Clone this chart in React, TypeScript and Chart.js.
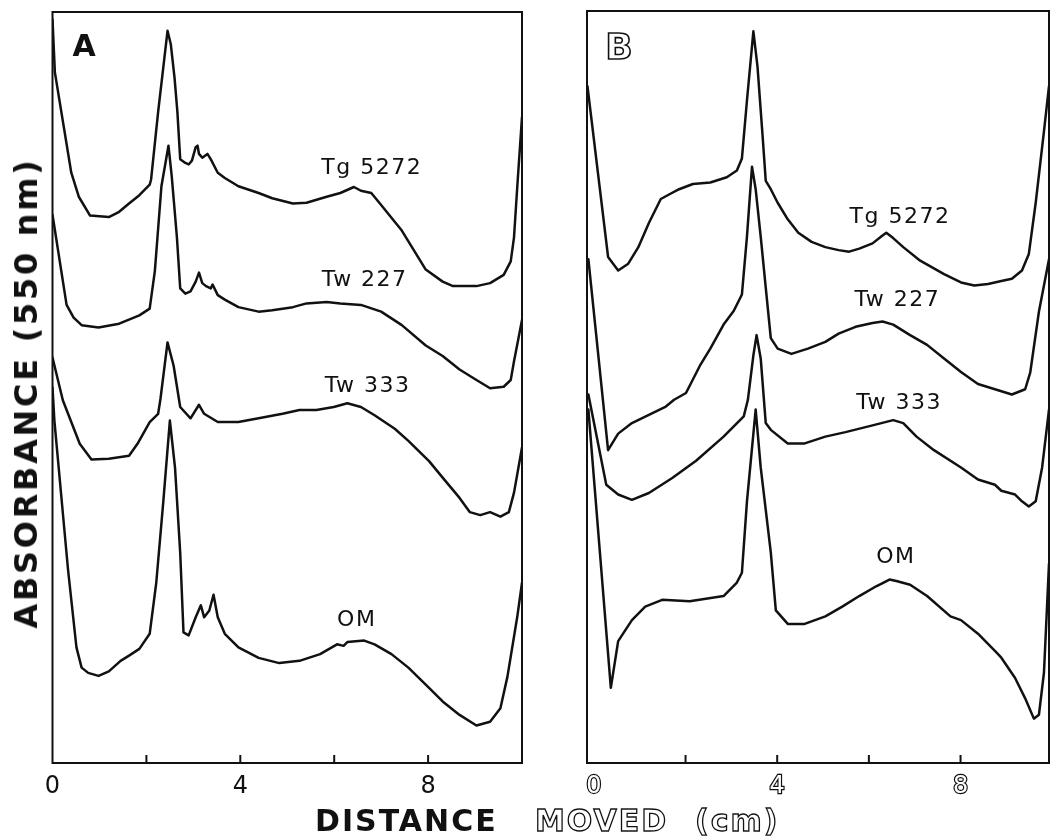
import React, { useEffect, useRef } from 'react';
import { Chart, registerables } from 'chart.js';

Chart.register(...registerables);

type Pt = [number, number];

// x ticks (cm) and series names
const X_TICKS = [0, 2, 4, 6, 8];
const SERIES_NAMES = ['Tg 5272', 'Tw 227', 'Tw 333', 'OM'];

// ---------- Panel A (distance cm, absorbance arbitrary units 0-100) ----------
const A_TG5272: Pt[] = [
  [0, 99], [0.05, 92], [0.4, 78.6], [0.56, 75.4], [0.8, 72.9], [1.2, 72.7], [1.42, 73.4], [1.63, 74.5],
  [1.85, 75.6], [2.07, 77.0], [2.1, 77.7], [2.25, 86.7], [2.45, 97.5], [2.52, 95.7], [2.6, 91.2], [2.66, 86.7],
  [2.72, 80.4], [2.83, 79.9], [2.9, 79.7], [2.97, 80.2], [3.05, 82.0], [3.09, 82.2], [3.12, 81.1], [3.19, 80.6],
  [3.3, 81.1], [3.37, 80.4], [3.52, 78.6], [3.67, 77.9], [3.96, 76.8], [4.39, 75.9], [4.68, 75.2], [5.12, 74.5],
  [5.41, 74.6], [5.84, 75.4], [6.13, 75.9], [6.42, 76.7], [6.57, 76.2], [6.79, 75.9], [7.0, 74.3], [7.44, 70.9],
  [7.95, 65.7], [8.31, 64.1], [8.53, 63.5], [9.03, 63.5], [9.32, 63.9], [9.61, 65.0], [9.76, 66.8], [9.83, 70.0],
  [9.9, 76.8], [10, 86],
];
const A_TW227: Pt[] = [
  [0, 73], [0.3, 61], [0.45, 59.3], [0.62, 58.3], [0.98, 58.0], [1.42, 58.5], [1.85, 59.6], [2.07, 60.5],
  [2.18, 65.5], [2.32, 76.8], [2.47, 82.2], [2.54, 78.1], [2.65, 70.0], [2.72, 63.2], [2.83, 62.5], [2.94, 62.8],
  [3.05, 64.1], [3.12, 65.3], [3.19, 63.9], [3.27, 63.5], [3.37, 63.2], [3.41, 63.7], [3.52, 62.3], [3.67, 61.7],
  [3.96, 60.7], [4.39, 60.1], [4.68, 60.3], [5.12, 60.7], [5.41, 61.2], [5.84, 61.4], [6.13, 61.2], [6.57, 61.0],
  [7.0, 60.1], [7.44, 58.3], [7.95, 55.6], [8.31, 54.2], [8.67, 52.4], [9.03, 51.0], [9.32, 49.9], [9.61, 50.1],
  [9.76, 51.0], [9.83, 53.5], [10, 59],
];
const A_TW333: Pt[] = [
  [0, 54], [0.22, 48.3], [0.58, 42.5], [0.83, 40.4], [1.2, 40.5], [1.63, 40.9], [1.81, 42.5], [2.07, 45.4],
  [2.25, 46.5], [2.3, 48.5], [2.45, 56.0], [2.58, 52.9], [2.72, 47.4], [2.94, 45.9], [3.12, 47.7], [3.23, 46.5],
  [3.52, 45.4], [3.96, 45.4], [4.39, 45.9], [4.9, 46.5], [5.26, 47.0], [5.62, 47.0], [5.99, 47.4], [6.28, 47.9],
  [6.57, 47.4], [6.86, 46.3], [7.29, 44.5], [7.58, 42.9], [8.02, 40.2], [8.31, 38.0], [8.67, 35.3], [8.89, 33.4],
  [9.11, 33.0], [9.32, 33.4], [9.54, 32.8], [9.72, 33.4], [9.83, 36.0], [10, 42],
];
const A_OM: Pt[] = [
  [0, 50], [0.04, 45.6], [0.33, 25.8], [0.51, 15.4], [0.62, 12.7], [0.76, 12.0], [0.98, 11.6], [1.2, 12.2],
  [1.45, 13.6], [1.63, 14.3], [1.85, 15.2], [2.07, 17.2], [2.21, 24.0], [2.36, 34.8], [2.5, 45.6], [2.61, 39.3],
  [2.72, 28.0], [2.79, 17.4], [2.9, 17.0], [3.05, 19.4], [3.16, 21.0], [3.23, 19.4], [3.34, 20.3], [3.43, 22.4],
  [3.52, 19.4], [3.67, 17.2], [3.96, 15.4], [4.39, 14.0], [4.83, 13.3], [5.26, 13.6], [5.7, 14.5], [6.06, 15.8],
  [6.2, 15.6], [6.28, 16.1], [6.64, 16.3], [6.86, 15.8], [7.22, 14.5], [7.58, 12.7], [8.02, 10.0], [8.31, 8.2],
  [8.67, 6.4], [9.03, 5.0], [9.32, 5.5], [9.54, 7.3], [9.69, 11.5], [9.9, 19.5], [10, 24],
];

// ---------- Panel B ----------
const B_TG5272: Pt[] = [
  [-0.14, 90], [0.31, 67.3], [0.53, 65.5], [0.75, 66.4], [0.97, 68.6], [1.2, 71.8], [1.46, 75.0], [1.64, 75.6],
  [1.86, 76.3], [2.16, 77.0], [2.54, 77.2], [2.9, 77.9], [3.12, 78.8], [3.23, 80.4], [3.34, 88.1], [3.48, 97.3],
  [3.57, 92.6], [3.68, 83.5], [3.75, 77.4], [3.86, 76.3], [4.01, 74.5], [4.23, 72.3], [4.46, 70.5], [4.75, 69.3],
  [5.05, 68.6], [5.34, 68.2], [5.57, 68.0], [5.79, 68.4], [6.08, 69.1], [6.27, 70.0], [6.38, 70.5], [6.53, 69.8],
  [6.75, 68.6], [7.12, 66.8], [7.64, 65.0], [8.01, 63.9], [8.3, 63.5], [8.6, 63.7], [8.89, 64.1], [9.12, 64.4],
  [9.34, 65.5], [9.49, 67.7], [9.64, 74.5], [9.82, 84], [9.93, 90],
];
const B_TW227: Pt[] = [
  [-0.12, 67], [0.31, 41.6], [0.53, 43.8], [0.83, 45.2], [1.2, 46.3], [1.57, 47.4], [1.75, 48.3], [2.01, 49.2],
  [2.31, 52.8], [2.54, 55.1], [2.83, 58.3], [3.05, 60.1], [3.23, 62.3], [3.34, 70.0], [3.45, 79.3], [3.53, 76.3],
  [3.64, 70.0], [3.75, 63.2], [3.86, 56.5], [4.01, 55.1], [4.31, 54.4], [4.67, 55.1], [5.05, 56.0], [5.34, 57.1],
  [5.71, 58.0], [6.08, 58.5], [6.3, 58.7], [6.53, 58.3], [6.9, 56.9], [7.27, 55.6], [7.64, 53.8], [8.01, 52.0],
  [8.38, 50.4], [8.75, 49.7], [9.12, 49.0], [9.41, 49.7], [9.52, 51.9], [9.71, 60.0], [9.93, 67],
];
const B_TW333: Pt[] = [
  [-0.12, 49], [0.27, 37.0], [0.53, 35.7], [0.83, 35.0], [1.2, 35.9], [1.71, 37.9], [2.23, 40.2], [2.83, 43.4],
  [3.27, 46.1], [3.36, 48.3], [3.48, 54.2], [3.55, 56.9], [3.64, 53.8], [3.75, 45.2], [3.86, 44.3], [4.23, 42.5],
  [4.6, 42.5], [5.05, 43.4], [5.49, 44.0], [6.08, 44.9], [6.53, 45.6], [6.75, 45.2], [7.04, 43.4], [7.42, 41.6],
  [8.01, 39.3], [8.38, 37.7], [8.75, 37.0], [8.89, 36.2], [9.19, 35.7], [9.34, 34.8], [9.49, 34.1], [9.64, 34.8],
  [9.78, 39.3], [9.93, 47],
];
const B_OM: Pt[] = [
  [-0.12, 47], [0.37, 10.0], [0.53, 16.2], [0.83, 19.0], [1.12, 20.8], [1.49, 21.7], [2.09, 21.5], [2.83, 22.2],
  [3.12, 24.0], [3.23, 25.3], [3.34, 34.8], [3.53, 47.0], [3.64, 39.3], [3.86, 28.0], [3.97, 20.3], [4.23, 18.5],
  [4.6, 18.5], [5.05, 19.5], [5.42, 20.8], [5.79, 22.2], [6.16, 23.5], [6.45, 24.4], [6.6, 24.2], [6.9, 23.7],
  [7.27, 22.2], [7.78, 19.5], [8.01, 19.0], [8.38, 17.2], [8.75, 14.9], [8.89, 14.0], [9.19, 11.3], [9.41, 8.6],
  [9.6, 5.9], [9.71, 6.4], [9.82, 12.0], [9.93, 26.5],
];

type PanelSpec = {
  letter: string;
  hollow: boolean;
  letterSize: number;
  series: Pt[][];
  xMin: number;
  xMax: number;
  canvasLeft: number;
  canvasWidth: number;
  pad: { left: number; right: number; top: number };
  letterOffset: [number, number];
  labelPos: Pt[];
};

function makeDeco(p: PanelSpec) {
  return {
    id: 'panelDeco' + p.letter,
    afterDatasetsDraw(chart: any) {
      const { ctx, chartArea: ca, scales } = chart;
      const xs = scales.x;
      const ys = scales.y;
      ctx.save();
      ctx.strokeStyle = '#111';
      ctx.lineWidth = 2;
      ctx.strokeRect(ca.left, ca.top, ca.right - ca.left, ca.bottom - ca.top);
      xs.ticks.forEach((t: any) => {
        if (t.value > 0) {
          const px = xs.getPixelForValue(t.value);
          ctx.beginPath();
          ctx.moveTo(px, ca.bottom);
          ctx.lineTo(px, ca.bottom - 8);
          ctx.stroke();
        }
      });
      ctx.font = `bold ${p.letterSize}px "DejaVu Sans"`;
      ctx.textAlign = 'center';
      ctx.textBaseline = 'alphabetic';
      const lx = ca.left + p.letterOffset[0];
      const ly = ca.top + p.letterOffset[1];
      if (p.hollow) {
        ctx.lineWidth = 1.6;
        ctx.strokeText(p.letter, lx, ly);
      } else {
        ctx.fillStyle = '#111';
        ctx.fillText(p.letter, lx, ly);
      }
      ctx.font = '22px "DejaVu Sans"';
      (ctx as any).letterSpacing = '1.5px';
      ctx.textBaseline = 'middle';
      ctx.fillStyle = '#111';
      p.labelPos.forEach(([x, y], i) => {
        ctx.fillText(SERIES_NAMES[i], xs.getPixelForValue(x), ys.getPixelForValue(y));
      });
      ctx.restore();
    },
  };
}

function buildConfig(p: PanelSpec): any {
  return {
    type: 'line',
    data: {
      datasets: p.series.map((s, i) => ({
        label: SERIES_NAMES[i],
        data: s.map(([x, y]) => ({ x, y })),
        borderColor: '#111',
        borderWidth: 2.5,
        pointRadius: 0,
        fill: false,
        tension: 0,
        borderJoinStyle: 'round',
        borderCapStyle: 'round',
      })),
    },
    options: {
      animation: false,
      responsive: false,
      devicePixelRatio: 1,
      layout: { padding: { left: p.pad.left, right: p.pad.right, top: p.pad.top, bottom: 0 } },
      plugins: { legend: { display: false }, tooltip: { enabled: false } },
      scales: {
        x: {
          type: 'linear',
          min: p.xMin,
          max: p.xMax,
          grid: { display: false, drawTicks: false },
          border: { display: false },
          afterBuildTicks: (axis: any) => {
            axis.ticks = X_TICKS.map((v) => ({ value: v }));
          },
          afterFit: (axis: any) => {
            axis.height = 76;
          },
          ticks: {
            autoSkip: false,
            maxRotation: 0,
            padding: 9,
            font: { family: 'DejaVu Sans', size: 24 },
            color: p.hollow ? '#fff' : '#111',
            textStrokeColor: '#111',
            textStrokeWidth: p.hollow ? 2.4 : 0,
            callback: (v: number) => (v % 4 === 0 ? String(v) : ''),
          },
        },
        y: { type: 'linear', min: 0, max: 100, display: false },
      },
    },
    plugins: [makeDeco(p)],
  };
}

const PANEL_A: PanelSpec = {
  letter: 'A',
  hollow: false,
  letterSize: 30,
  series: [A_TG5272, A_TW227, A_TW333, A_OM],
  xMin: 0,
  xMax: 10,
  canvasLeft: 0,
  canvasWidth: 535,
  pad: { left: 52.5, right: 13, top: 12 },
  letterOffset: [31.5, 44],
  labelPos: [[6.8, 79.2], [6.65, 64.3], [6.71, 50.2], [6.48, 19.0]],
};

const PANEL_B: PanelSpec = {
  letter: 'B',
  hollow: true,
  letterSize: 36,
  series: [B_TG5272, B_TW227, B_TW333, B_OM],
  xMin: -0.15,
  xMax: 9.93,
  canvasLeft: 535,
  canvasWidth: 516,
  pad: { left: 52, right: 2, top: 11 },
  letterOffset: [32, 48],
  labelPos: [[6.68, 72.6], [6.62, 61.5], [6.66, 47.8], [6.59, 27.3]],
};

function Panel({ spec }: { spec: PanelSpec }) {
  const ref = useRef<HTMLCanvasElement | null>(null);
  useEffect(() => {
    if (!ref.current) return;
    const chart = new Chart(ref.current, buildConfig(spec));
    return () => chart.destroy();
  }, [spec]);
  return (
    <canvas
      ref={ref}
      width={spec.canvasWidth}
      height={839}
      style={{ position: 'absolute', left: spec.canvasLeft, top: 0, width: spec.canvasWidth, height: 839 }}
    />
  );
}

const titleFont: React.CSSProperties = {
  fontFamily: '"DejaVu Sans", sans-serif',
  fontWeight: 'bold',
  color: '#111',
  whiteSpace: 'nowrap',
  position: 'absolute',
};
const hollow: React.CSSProperties = {
  color: '#fff',
  WebkitTextStroke: '1.3px #111',
};

export default function App() {
  return (
    <div style={{ position: 'fixed', left: 0, top: 0, width: 1051, height: 839, background: '#fff', overflow: 'hidden' }}>
      <Panel spec={PANEL_A} />
      <Panel spec={PANEL_B} />
      <div
        style={{
          ...titleFont,
          left: 25.5,
          top: 393,
          fontSize: 32,
          lineHeight: '32px',
          letterSpacing: '2.7px',
          transform: 'translate(-50%, -50%) rotate(-90deg)',
        }}
      >
        ABSORBANCE (550 nm)
      </div>
      <div style={{ ...titleFont, left: 315, top: 806, fontSize: 30, lineHeight: '30px', letterSpacing: '2px' }}>DISTANCE</div>
      <div style={{ ...titleFont, ...hollow, left: 535, top: 806, fontSize: 30, lineHeight: '30px', letterSpacing: '2px' }}>MOVED</div>
      <div style={{ ...titleFont, ...hollow, left: 695, top: 806, fontSize: 30, lineHeight: '30px', letterSpacing: '2px' }}>(cm)</div>
    </div>
  );
}
